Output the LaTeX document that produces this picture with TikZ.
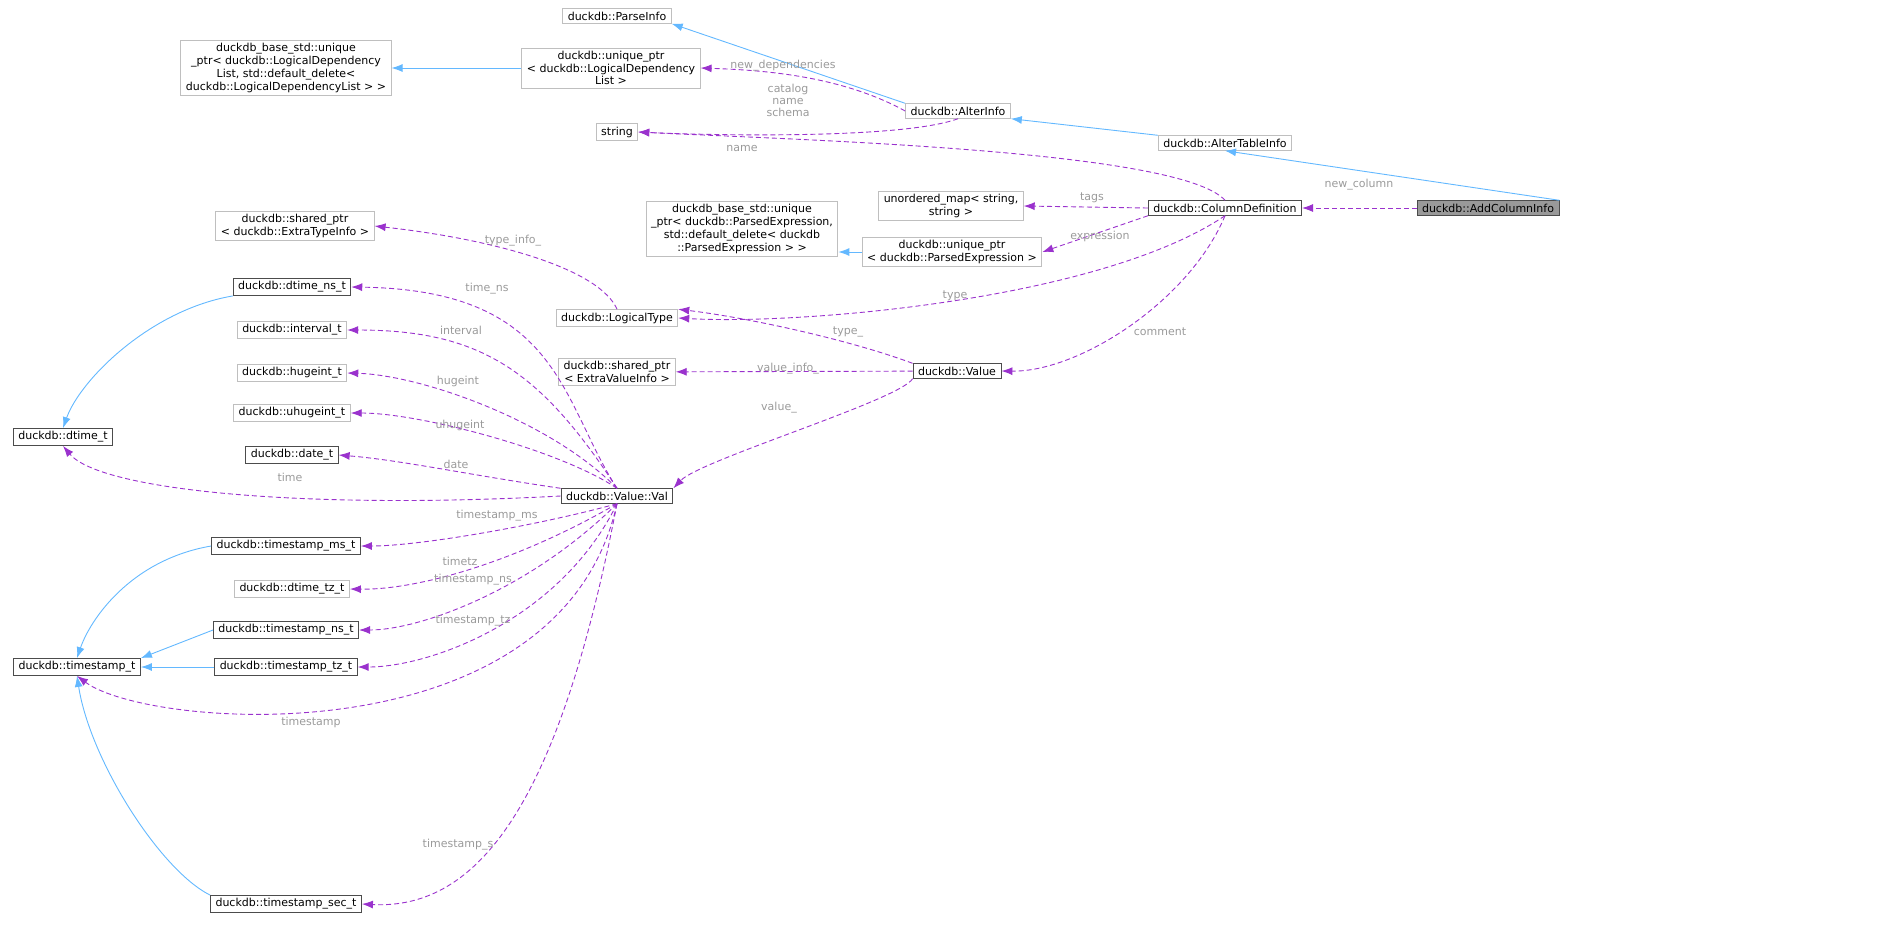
\documentclass[tikz,border=0pt]{standalone}
\usepackage{fontspec}
\setmainfont{DejaVu Sans}
\usetikzlibrary{arrows.meta}
\definecolor{inhcol}{HTML}{63B8FF}
\definecolor{usecol}{HTML}{9A32CD}
\definecolor{lblcol}{HTML}{9A9A9A}
\definecolor{extcol}{HTML}{BFBFBF}
\tikzset{
  box/.style={draw=#1, fill=white, line width=0.45, inner xsep=2.5, inner ysep=1.5, align=center, font=\fontsize{5.5}{6.4}\selectfont},
  cls/.style={box=black!70},
  ext/.style={box=extcol},
  inh/.style={inhcol, line width=0.45, -{Latex[length=5.5,width=4]}},
  use/.style={usecol, line width=0.45, dash pattern=on 2.5 off 1.5, -{Latex[length=5.5,width=4]}},
  lbl/.style={text=lblcol, align=center, font=\fontsize{5.5}{6}\selectfont, inner sep=0}
}
\begin{document}
\begin{tikzpicture}[x=0.5pt, y=-0.5pt]
  \useasboundingbox (0,0) rectangle (1892,939);

  % nodes
  \node [ext] (parseinfo) at (617,16) {duckdb::ParseInfo};
  \node [ext] (updbase) at (286,68) {duckdb\_base\_std::unique\\\_ptr< duckdb::LogicalDependency\\List, std::default\_delete<\\ duckdb::LogicalDependencyList > >};
  \node [ext] (updep) at (611,68) {duckdb::unique\_ptr\\< duckdb::LogicalDependency\\List >};
  \node [ext] (alterinfo) at (958,111) {duckdb::AlterInfo};
  \node [ext] (str) at (617,132) {string};
  \node [ext] (altertable) at (1225,143) {duckdb::AlterTableInfo};
  \node [box=black!70, fill=black!40] (addcol) at (1488,208) {duckdb::AddColumnInfo};
  \node [ext] (umap) at (951,206) {unordered\_map< string,\\string >};
  \node [cls] (coldef) at (1225,208) {duckdb::ColumnDefinition};
  \node [ext] (upebase) at (742,229) {duckdb\_base\_std::unique\\\_ptr< duckdb::ParsedExpression,\\std::default\_delete< duckdb\\::ParsedExpression > >};
  \node [ext] (upe) at (952,252) {duckdb::unique\_ptr\\< duckdb::ParsedExpression >};
  \node [ext] (sptype) at (295,226) {duckdb::shared\_ptr\\< duckdb::ExtraTypeInfo >};
  \node [cls] (dtimens) at (292,287) {duckdb::dtime\_ns\_t};
  \node [ext] (ltype) at (617,318) {duckdb::LogicalType};
  \node [ext] (interval) at (292,330) {duckdb::interval\_t};
  \node [ext] (hugeint) at (292,373) {duckdb::hugeint\_t};
  \node [ext] (spval) at (617,372) {duckdb::shared\_ptr\\< ExtraValueInfo >};
  \node [cls] (value) at (957,371) {duckdb::Value};
  \node [cls] (dtime) at (63,437) {duckdb::dtime\_t};
  \node [ext] (uhugeint) at (292,413) {duckdb::uhugeint\_t};
  \node [cls] (date) at (292,455) {duckdb::date\_t};
  \node [cls] (val) at (617,496) {duckdb::Value::Val};
  \node [cls] (tsms) at (286,546) {duckdb::timestamp\_ms\_t};
  \node [ext] (dtimetz) at (292,589) {duckdb::dtime\_tz\_t};
  \node [cls] (tsns) at (286,630) {duckdb::timestamp\_ns\_t};
  \node [cls] (ts) at (77,667) {duckdb::timestamp\_t};
  \node [cls] (tstz) at (286,667) {duckdb::timestamp\_tz\_t};
  \node [cls] (tssec) at (286,904) {duckdb::timestamp\_sec\_t};

  % inheritance
  \draw [inh] (alterinfo.north west) -- (parseinfo.south east);
  \draw [inh] (updep) -- (updbase);
  \draw [inh] (altertable.north west) -- (alterinfo.south east);
  \draw [inh] (addcol.north east) -- (altertable.south);
  \draw [inh] (upe.west) -- (upe.west -| upebase.east);
  \draw [inh] (dtimens.south west) .. controls (150,310) and (80,380) .. (dtime.north);
  \draw [inh] (tsms.west) .. controls (130,560) and (90,620) .. (ts.north);
  \draw [inh] (tsns.west) -- (ts.north east);
  \draw [inh] (tstz.west) -- (ts.east);
  \draw [inh] (tssec.north west) .. controls (160,870) and (90,760) .. (ts.south);

  % members
  \draw [use] (alterinfo.west) .. controls (840,75) and (760,70) .. (updep.east)
    node [lbl, at={(783,66)}] {new\_dependencies};
  \draw [use] (alterinfo.south) .. controls (900,140) and (700,135) .. (str.east)
    node [lbl, at={(788,100)}] {catalog\\name\\schema};
  \draw [use] (coldef.north) .. controls (1180,150) and (800,140) .. (str.east)
    node [lbl, at={(742,148)}] {name};
  \draw [use] (addcol) -- (coldef)
    node [lbl, at={(1359,185)}] {new\_column};
  \draw [use] (coldef.west) -- (umap.east)
    node [lbl, at={(1092,198)}] {tags};
  \draw [use] (coldef.south west) -- (upe.east)
    node [lbl, at={(1100,236)}] {expression};
  \draw [use] (coldef.south) .. controls (1100,300) and (800,325) .. (ltype.east)
    node [lbl, at={(955,296)}] {type};
  \draw [use] (coldef.south) .. controls (1190,300) and (1080,372) .. (value.east)
    node [lbl, at={(1160,332)}] {comment};
  \draw [use] (ltype.north) .. controls (600,270) and (500,240) .. (sptype.east)
    node [lbl, at={(513,241)}] {type\_info\_};
  \draw [use] (value.north west) .. controls (850,340) and (750,318) .. (ltype.north east)
    node [lbl, at={(848,332)}] {type\_};
  \draw [use] (value) -- (spval)
    node [lbl, at={(788,369)}] {value\_info\_};
  \draw [use] (value.south west) .. controls (900,400) and (700,460) .. (val.north east)
    node [lbl, at={(779,408)}] {value\_};
  \draw [use] (val.north) .. controls (560,400) and (560,290) .. (dtimens.east)
    node [lbl, at={(487,289)}] {time\_ns};
  \draw [use] (val.north) .. controls (540,370) and (480,330) .. (interval.east)
    node [lbl, at={(461,330)}] {interval};
  \draw [use] (val.north) .. controls (550,420) and (420,375) .. (hugeint.east)
    node [lbl, at={(458,381)}] {hugeint};
  \draw [use] (val.north) .. controls (560,450) and (420,413) .. (uhugeint.east)
    node [lbl, at={(460,425)}] {uhugeint};
  \draw [use] (val.north west) .. controls (470,475) and (400,460) .. (date.east)
    node [lbl, at={(456,464)}] {date};
  \draw [use] (val.west) .. controls (300,510) and (100,490) .. (dtime.south)
    node [lbl, at={(290,477)}] {time};
  \draw [use] (val.south) .. controls (540,525) and (420,546) .. (tsms.east)
    node [lbl, at={(497,516)}] {timestamp\_ms};
  \draw [use] (val.south) .. controls (520,560) and (420,590) .. (dtimetz.east)
    node [lbl, at={(460,561)}] {timetz};
  \draw [use] (val.south) .. controls (530,590) and (420,630) .. (tsns.east)
    node [lbl, at={(473,580)}] {timestamp\_ns};
  \draw [use] (val.south) .. controls (560,620) and (430,667) .. (tstz.east)
    node [lbl, at={(473,621)}] {timestamp\_tz};
  \draw [use] (val.south) .. controls (560,760) and (150,730) .. (ts.south)
    node [lbl, at={(311,722)}] {timestamp};
  \draw [use] (val.south) .. controls (560,800) and (480,910) .. (tssec.east)
    node [lbl, at={(458,845)}] {timestamp\_s};
\end{tikzpicture}
\end{document}
